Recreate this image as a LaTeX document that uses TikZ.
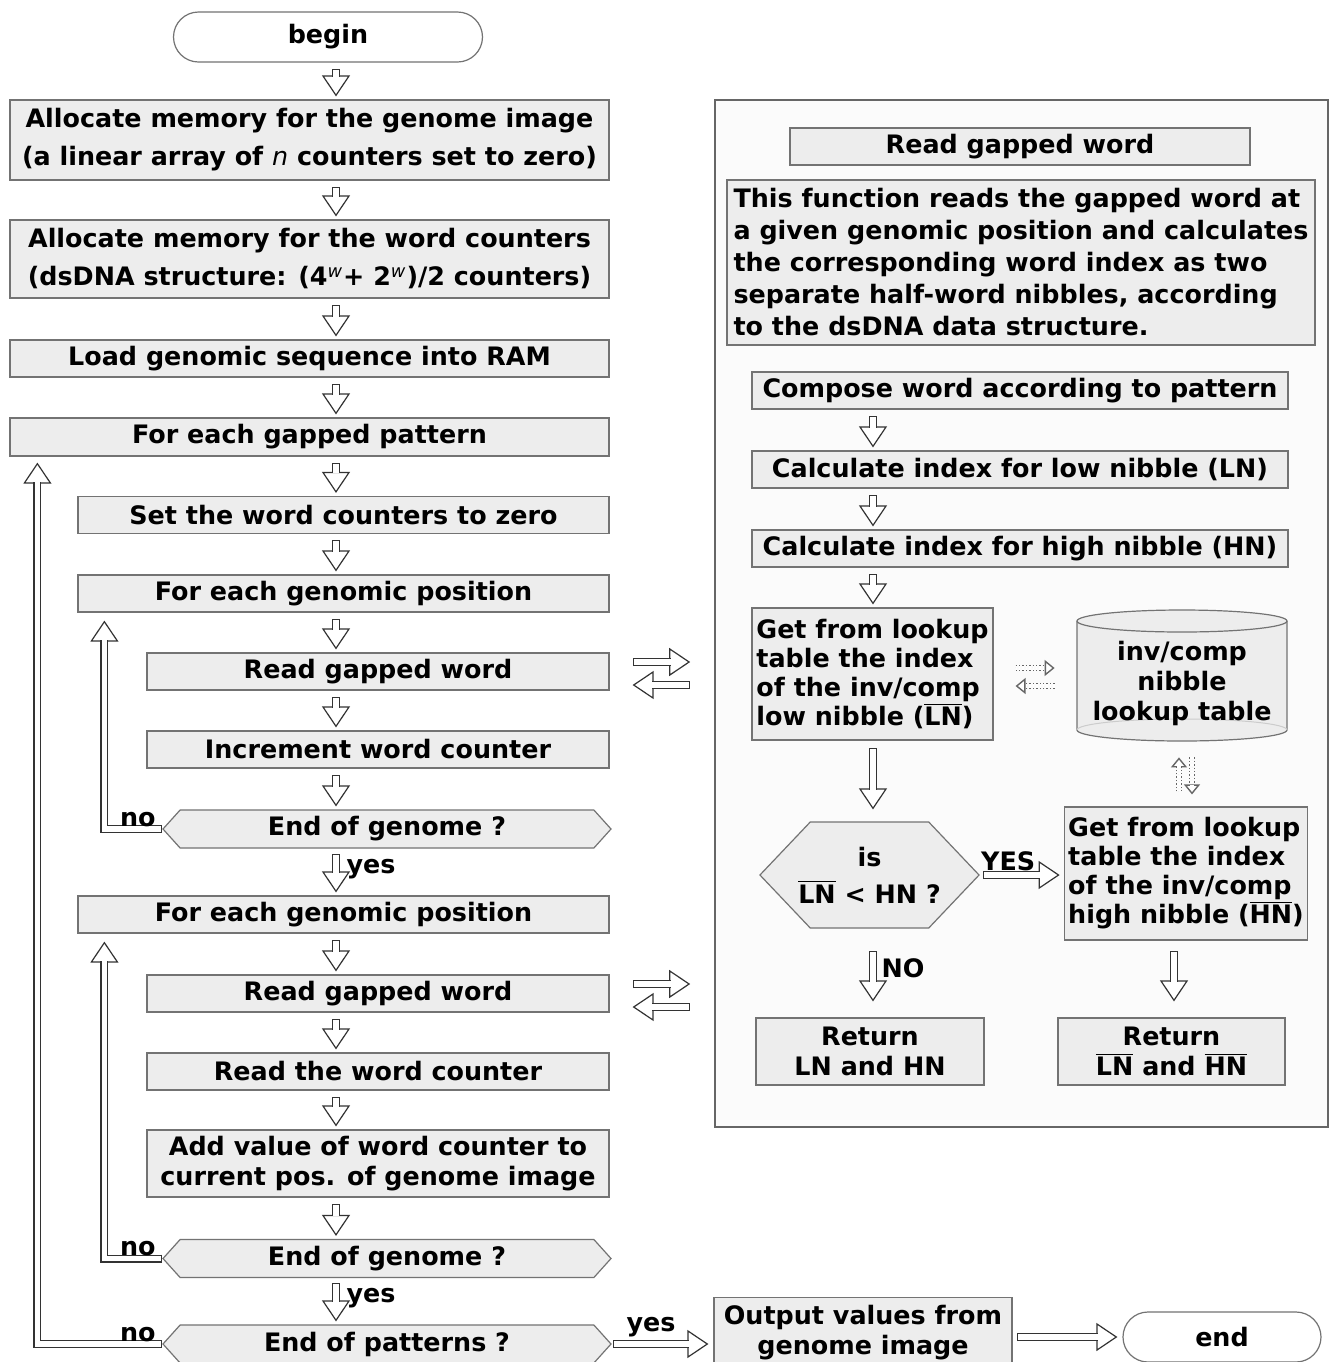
\documentclass[tikz,border=0pt]{standalone}
\usepackage{fontspec}
\setmainfont{DejaVu Sans}
\usetikzlibrary{arrows.meta,shapes.misc,shapes.symbols,calc}

\newcommand{\ovl}[1]{$\overline{\mbox{#1}}$}

\tikzset{
  box/.style={draw=black!55, fill=black!7, line width=0.6pt, inner sep=2pt, align=center,
    font=\bfseries\fontsize{12.7}{19}\selectfont},
  tight/.style={font=\bfseries\fontsize{12.7}{15}\selectfont},
  term/.style={box, rounded rectangle, fill=white},
  test/.style={box, signal, signal to=west and east, signal pointer angle=96},
  lbl/.style={inner sep=1pt, font=\bfseries\fontsize{12.7}{15}\selectfont},
  flow/.style={draw=black!80, line width=0.6pt,
    {Bar[width=4pt]}-{Triangle[open, fill=white, length=10.5pt, width=14pt]},
    postaction={draw=black!80, -, double=white, double distance=2.8pt,
      shorten <=0.6pt, shorten >=9.8pt}},
  dotflow/.style={draw=black!60, line width=0.7pt, densely dotted,
    -{Triangle[open, fill=white, length=5pt, width=8pt]},
    postaction={draw=black!60, -, double=white, double distance=1.6pt, shorten >=4.5pt}}
}

\begin{document}
\begin{tikzpicture}[x=0.5pt, y=-0.5pt]
\useasboundingbox (0,0) rectangle (1329,1362);
\fill[white] (0,0) rectangle (1329,1362);
\coordinate (lax) at (336,0);
\coordinate (rax) at (873,0);

% main program
\node[term, minimum width=158.5pt, minimum height=25pt] (begin) at (328,37) {begin};
\node[box, minimum width=299.5pt, minimum height=40pt] (b1) at (309.5,140)
  {Allocate memory for the genome image\\(a linear array of {\mdseries\itshape n} counters set to zero)};
\node[box, minimum width=299.5pt, minimum height=39pt] (b2) at (309.5,259)
  {Allocate memory for the word counters\\(dsDNA structure: (4\textsuperscript{\mdseries\itshape w}+ 2\textsuperscript{\mdseries\itshape w})/2 counters)};
\node[box, minimum width=299.5pt, minimum height=18.5pt] (b3) at (309.5,358.5) {Load genomic sequence into RAM};
\node[box, minimum width=299.5pt, minimum height=19pt] (b4) at (309.5,437) {For each gapped pattern};
\node[box, minimum width=265.5pt, minimum height=18.5pt] (b5) at (343.5,515) {Set the word counters to zero};
\node[box, minimum width=265.5pt, minimum height=18.5pt] (b6) at (343.5,593.5) {For each genomic position};
\node[box, minimum width=231pt, minimum height=18.5pt] (b7) at (378,671.5) {Read gapped word};
\node[box, minimum width=231pt, minimum height=18.5pt] (b8) at (378,749.5) {Increment word counter};
\node[test, minimum width=224pt, minimum height=19pt] (t1) at (387,829) {End of genome ?};
\node[box, minimum width=265.5pt, minimum height=18.5pt] (b9) at (343.5,914.5) {For each genomic position};
\node[box, minimum width=231pt, minimum height=18.5pt] (b10) at (378,993.5) {Read gapped word};
\node[box, minimum width=231pt, minimum height=18.5pt] (b11) at (378,1071.5) {Read the word counter};
\node[box, tight, minimum width=231pt, minimum height=33.5pt] (b12) at (378,1163.5)
  {Add value of word counter to\\current pos. of genome image};
\node[test, minimum width=224pt, minimum height=19pt] (t2) at (387,1258.5) {End of genome ?};
\node[test, minimum width=224pt, minimum height=19pt] (t3) at (387,1344) {End of patterns ?};
\node[box, tight, minimum width=149pt, minimum height=35pt] (out) at (863,1332.5)
  {Output values from\\genome image};
\node[term, minimum width=103pt, minimum height=25pt] (end) at (1222,1337) {end};

% function
\node[draw=black!60, fill=black!1.5, line width=0.8pt, minimum width=306.5pt, minimum height=513.5pt]
  (panel) at (1021.5,613.5) {};
\node[box, minimum width=230pt, minimum height=18.5pt] (title) at (1020,146.5) {Read gapped word};
\node[box, align=left, font=\bfseries\fontsize{12.7}{16}\selectfont, minimum width=294pt, minimum height=82.5pt]
  (desc) at (1021,262.5) {This function reads the gapped word at\\a given genomic position and calculates\\
  the corresponding word index as two\\separate half-word nibbles, according\\to the dsDNA data structure.};
\node[box, minimum width=268pt, minimum height=18.5pt] (c1) at (1020,390.5) {Compose word according to pattern};
\node[box, minimum width=268pt, minimum height=18.5pt] (c2) at (1020,469.5) {Calculate index for low nibble (LN)};
\node[box, minimum width=268pt, minimum height=18.5pt] (c3) at (1020,548.5) {Calculate index for high nibble (HN)};
\node[box, align=left, font=\bfseries\fontsize{12.7}{14.5}\selectfont, minimum width=120.5pt, minimum height=66pt]
  (lnbox) at (872.5,674) {Get from lookup\\table the index\\of the inv/comp\\low nibble (\ovl{LN})};
\path[draw=black!55, fill=black!7, line width=0.6pt] (1077,621) -- (1077,730)
  arc[start angle=180, end angle=360, x radius=52.5pt, y radius=5.5pt] -- (1287,621)
  arc[start angle=0, end angle=180, x radius=52.5pt, y radius=5.5pt] -- cycle;
\draw[black!55, line width=0.6pt] (1077,621) arc[start angle=180, end angle=360, x radius=52.5pt, y radius=5.5pt];
\draw[black!20, line width=0.5pt] (1077,730) arc[start angle=180, end angle=0, x radius=52.5pt, y radius=5.5pt];
\node[lbl, align=center, minimum width=105pt, minimum height=60pt] (lut) at (1182,683) {inv/comp\\nibble\\lookup table};
\node[box, test, signal pointer angle=93, inner xsep=-6pt, minimum width=109.5pt, minimum height=53pt,
  font=\bfseries\fontsize{12.7}{18.5}\selectfont] (hexq) at (869.5,875) {is\\\ovl{LN} < HN ?};
\node[box, align=left, font=\bfseries\fontsize{12.7}{14.5}\selectfont, minimum width=121pt, minimum height=66.5pt]
  (hnbox) at (1186,873.5) {Get from lookup\\table the index\\of the inv/comp\\high nibble (\ovl{HN})};
\node[box, tight, minimum width=114pt, minimum height=33.5pt] (r1) at (870,1051.5) {Return\\LN and HN};
\node[box, tight, minimum width=113.5pt, minimum height=33.5pt] (r2) at (1171.5,1051.5) {Return\\\ovl{LN} and \ovl{HN}};

% connectors
\foreach \a/\b in {begin/b1,b1/b2,b2/b3,b3/b4,b4/b5,b5/b6,b6/b7,b7/b8,b8/t1,b9/b10,b10/b11,b11/b12,b12/t2}
  \draw[flow] ($(\a.south -| lax)+(0,6)$) -- ($(\b.north -| lax)+(0,-3)$);
\draw[flow] ($(t1.south -| lax)+(0,5)$) -- node[lbl, pos=0.4, right=4pt] {yes} ($(b9.north -| lax)+(0,-3)$);
\draw[flow] ($(t2.south -| lax)+(0,5)$) -- node[lbl, pos=0.4, right=4pt] {yes} ($(t3.north -| lax)+(0,-3)$);
\draw[flow] (t1.west) node[lbl, anchor=south east, xshift=-2pt] {no} -| ($(b6.south west)+(27,8)$);
\draw[flow] (t2.west) node[lbl, anchor=south east, xshift=-2pt] {no} -| ($(b9.south west)+(27,8)$);
\draw[flow] (t3.west) node[lbl, anchor=south east, xshift=-2pt] {no} -| ($(b4.south west)+(28,6)$);
\draw[flow] ($(t3.east)+(1,0)$) -- node[lbl, pos=0.4, above=2pt] {yes} ($(out.west |- t3.east)+(-5,0)$);
\draw[flow] ($(out.east |- end.west)+(4,0)$) -- ($(end.west)+(-5,0)$);

\foreach \b in {b7,b10} {
  \draw[flow] ($(\b.east)+(23,-9.5)$) -- ($(\b.east -| panel.west)+(-24,-9.5)$);
  \draw[flow] ($(\b.east -| panel.west)+(-24,13.5)$) -- ($(\b.east)+(23,13.5)$);
}

\foreach \a/\b in {c1/c2,c2/c3,c3/lnbox}
  \draw[flow] ($(\a.south -| rax)+(0,6)$) -- ($(\b.north -| rax)+(0,-3)$);
\draw[flow] ($(lnbox.south -| rax)+(0,7)$) -- ($(hexq.north -| rax)+(0,-12)$);
\draw[flow] ($(hexq.south -| rax)+(0,22)$) -- node[lbl, pos=0.35, right=3pt] {NO} ($(r1.north -| rax)+(0,-16)$);
\draw[flow] ($(hnbox.south)+(-12,10)$) -- ($(hnbox.south |- r2.north)+(-12,-16)$);
\draw[flow] ($(hexq.east)+(3,0)$) -- node[lbl, pos=0.33, above=1pt] {YES} ($(hnbox.west |- hexq.east)+(-4,0)$);

\draw[dotflow] ($(lnbox.east)+(22,-6)$) -- ($(lnbox.east -| lut.west)+(-22,-6)$);
\draw[dotflow] ($(lnbox.east -| lut.west)+(-22,12)$) -- ($(lnbox.east)+(22,12)$);
\draw[dotflow] ($(hnbox.north -| lut.south)+(-3,-15)$) -- ($(lut.south)+(-3,14)$);
\draw[dotflow] ($(lut.south)+(10,14)$) -- ($(hnbox.north -| lut.south)+(10,-12)$);
\end{tikzpicture}
\end{document}
